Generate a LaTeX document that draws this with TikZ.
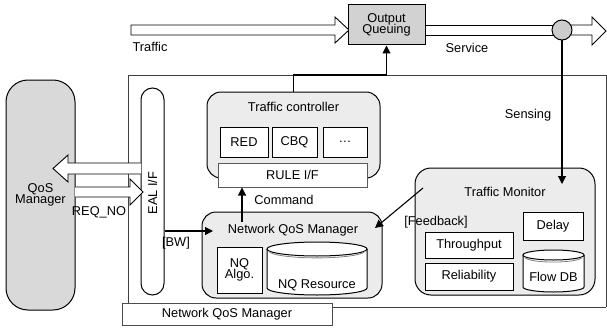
\documentclass[tikz,border=0pt]{standalone}
\usepackage{fontspec}
\setmainfont{Liberation Sans}
\usetikzlibrary{arrows.meta,calc}

% cylinder body: left x, right x, top-ellipse centre y, bottom-ellipse centre y, y radius
\newcommand\drumshape[5]{%
  \pgfmathsetmacro\dcx{(#1+#2)/2}\pgfmathsetmacro\drx{(#2-#1)/2}%
  \fill[white] (#1,#3) rectangle (#2,#4);
  \fill[white] (\dcx,#4) ellipse [x radius=\drx, y radius=#5];
  \draw[line width=1pt] (#1,#3) -- (#1,#4) arc[start angle=180, end angle=0, x radius=\drx, y radius=#5] -- (#2,#3);
  \draw[line width=1pt, fill=white] (\dcx,#3) ellipse [x radius=\drx, y radius=#5];
  \draw[gray, line width=0.8pt] (#1+2,#3+2.5) arc[start angle=175, end angle=5, x radius=\drx-2, y radius=#5];
}

\begin{document}
\begin{tikzpicture}[x=1pt, y=-1pt,
  font=\fontsize{12.8}{13.5}\selectfont,
  frameline/.style={draw=black!75, line width=0.7pt},
  hollow/.style={draw, line width=0.9pt, fill=white, line join=miter},
  plainbox/.style={draw, line width=1pt, fill=white, inner sep=0pt, align=center},
  softbox/.style={draw, line width=1pt, fill=gray!15, inner sep=0pt},
  darkbox/.style={draw, line width=1pt, fill=gray!35, inner sep=0pt, align=center},
  ifbox/.style={draw=gray!70!black, line width=1pt, fill=white, inner sep=0pt},
  conn/.style={draw, line width=1.1pt, -{Triangle[length=8pt, width=8pt]}},
  label/.style={inner sep=1pt}]
\useasboundingbox (0,0) rectangle (607,329);

% system boundary
\draw[frameline] (128,307) -- (128,75) -- (607,75);
\draw[frameline] (606,75) -- (606,307);
\draw[frameline] (128,307) -- (606,307);
\coordinate (ftop) at (128,75);

% traffic / service pipe
\draw[hollow] (131,25) -- (335,25) -- (335,17) -- (349,30) -- (335,43) -- (335,35) -- (131,35) -- cycle;
\draw[line width=0.9pt] (425,25) -- (560,25) (425,35) -- (560,35);
\draw[hollow] (565,25) -- (592,25) -- (592,17) -- (606,31) -- (592,45) -- (592,35) -- (565,35);
\node[darkbox, minimum width=77, minimum height=40] (oq) at (386.5,25) {Output\\[-2pt]Queuing};
\node[draw, line width=1pt, circle, fill=gray!40, minimum size=20, inner sep=0pt] (sense) at (562,30) {};
\node[label] (traffic) at (150,47) {Traffic};
\node[label] (service) at (467,48) {Service};

% QoS manager and external interface
\node[darkbox, fill=gray!30, rounded corners=22, minimum width=69, minimum height=230] (qos) at (40.5,195) {QoS\\[-2pt]Manager};
\node[plainbox, rounded corners=11.5, minimum width=23, minimum height=207] (eal) at (152.5,191.5) {};
\node[rotate=90, label] (ealtext) at (152.5,193) {EAL I/F};
\draw[hollow] (141,163) -- (68,163) -- (68,155) -- (53,168.5) -- (68,182) -- (68,174) -- (141,174);
\draw[hollow] (75,187) -- (130,187) -- (130,179) -- (143,192) -- (130,205) -- (130,197) -- (75,197);
\node[label] (reqno) at (99,212) {REQ\_NO};
\node[label] (bw) at (176,243) {[BW]};

% traffic controller
\node[softbox, rounded corners=14, minimum width=173, minimum height=86] (tc) at (293.5,135) {};
\node[label] (tctitle) at (293.5,107) {Traffic controller};
\node[plainbox, minimum width=48, minimum height=30] (red) at (244,142) {RED};
\node[plainbox, minimum width=45, minimum height=30] (cbq) at (294.5,142) {CBQ};
\node[plainbox, minimum width=44, minimum height=30] (more) at (345,142) {\dots};
\node[ifbox, minimum width=149, minimum height=24] (rule) at (292.5,175) {RULE I/F};

% network QoS manager
\node[softbox, rounded corners=14, minimum width=180, minimum height=86] (nqm) at (292,255) {};
\node[label] (nqmtitle) at (293,230) {Network QoS Manager};
\node[plainbox, minimum width=45, minimum height=46] (nqalgo) at (239.5,270) {NQ\\[-2pt]Algo.};
\drumshape{267}{367}{249}{288}{7}
\node[label] (nqres) at (317,285) {NQ Resource};
\node[draw=black!70, line width=0.8pt, fill=white, minimum width=210, minimum height=22, inner sep=0pt] (nqmlabel) at (227,314) {Network QoS Manager};

% traffic monitor
\node[softbox, rounded corners=16, minimum width=180, minimum height=127] (tm) at (505,231.5) {};
\node[label] (tmtitle) at (505,192) {Traffic Monitor};
\node[plainbox, minimum width=60, minimum height=28] (delay) at (553,226) {Delay};
\node[plainbox, minimum width=88, minimum height=26] (thr) at (469,245) {Throughput};
\node[plainbox, minimum width=88, minimum height=27] (rel) at (469,276.5) {Reliability};
\drumshape{523}{584}{255}{287}{5}
\node[label] (flowdb) at (553.5,277) {Flow DB};
\node[label] (feedback) at (436,222) {[Feedback]};
\node[label] (sensing) at (528,115) {Sensing};

% control connectors
\draw[conn] (tc.north) |- (oq.south |- ftop) -- (oq.south);
\coordinate (cmd) at (242,222);
\draw[conn] (cmd) -- (cmd |- rule.south);
\node[label] (command) at (284,200) {Command};
\coordinate (bwend) at (213,231);
\draw[conn] (eal.east |- bwend) -- (bwend);
\coordinate (fbstart) at (423,188);
\coordinate (fbend) at (375,228);
\draw[conn] (fbstart) -- (fbend);
\coordinate (senseend) at (562,184);
\draw[conn] (sense.south) -- (senseend);
\end{tikzpicture}
\end{document}
